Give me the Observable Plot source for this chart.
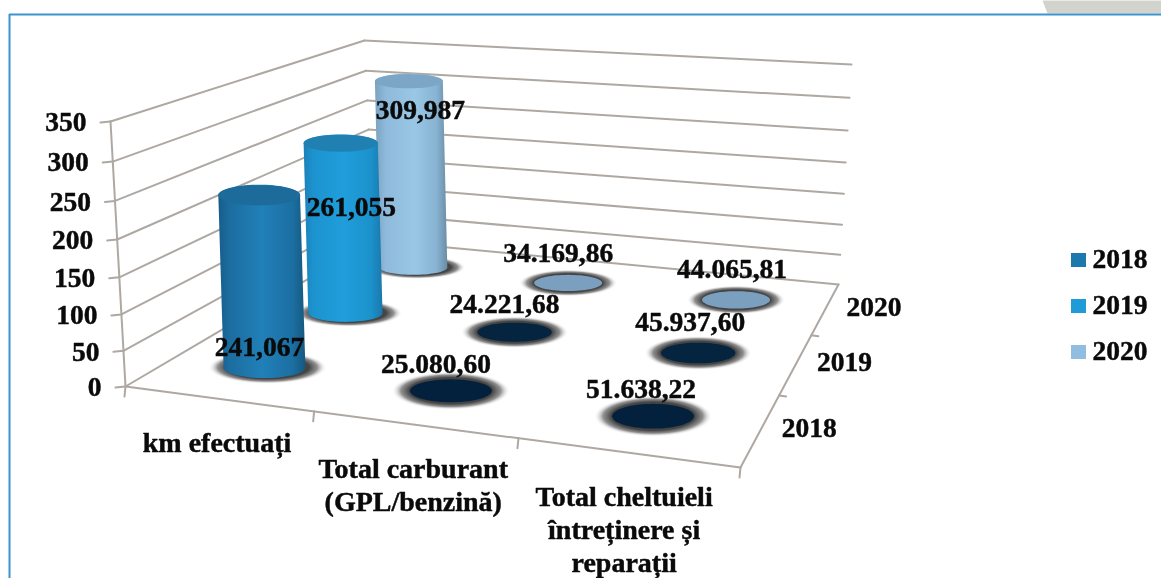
<!DOCTYPE html>
<html><head><meta charset="utf-8">
<script src="https://cdn.jsdelivr.net/npm/d3@7"></script>
<script src="https://cdn.jsdelivr.net/npm/@observablehq/plot@0.6"></script>
<style>
html,body{margin:0;padding:0;background:#fff}
#chart svg{display:block;filter:blur(0.6px)}
</style></head><body><div id="chart"></div>
<script>
// ---------- data ----------
const categories = ["km efectuați", "Total carburant\n(GPL/benzină)", "Total cheltuieli\nîntreținere și\nreparații"];
const years = ["2018", "2019", "2020"];
const kmHeights = [241.067, 261.055, 309.987];
const kmLabels = ["241,067", "261,055", "309,987"];
const carburantLabels = ["25.080,60", "24.221,68", "34.169,86"];
const cheltuieliLabels = ["51.638,22", "45.937,60", "44.065,81"];
const flatHeights = [0, 0, 0];
const valueTicks = [0, 50, 100, 150, 200, 250, 300, 350];

// ---------- projection of the 3D box: (category, year, value) -> picture ----------
const box = {
  fl0:[125,386], fr0:[740,467], bl0:[373,240], br0:[838,284],
  fl1:[110,121], fr1:[752,176], bl1:[364,40],  br1:[851,64]
};
const lerp = (a,b,t) => [a[0]+(b[0]-a[0])*t, a[1]+(b[1]-a[1])*t];
const warpU = t => t/(1.13-0.13*t);
const warpV = t => 1.3*t/(1+0.3*t);
const warpW = t => t/(1.07-0.07*t);
function raw(U,V,W){
  const f0 = lerp(box.fl0,box.fr0,U), b0 = lerp(box.bl0,box.br0,U);
  const f1 = lerp(box.fl1,box.fr1,U), b1 = lerp(box.bl1,box.br1,U);
  return lerp(lerp(f0,b0,V), lerp(f1,b1,V), W);
}
const project = (c,s,w) => raw(warpU(c/3), warpV(s/3), warpW(w/350));
const P = (c,s,w) => { const p = project(c,s,w); return {x:p[0], y:p[1]}; };

// ---------- derived shapes ----------
const R = 0.07;
const LEAN = 0.8; // cylinders lean a little less than the wall edges
function radii(c,s){
  const U = warpU(c/3), V = warpV(s/3);
  const rx = Math.abs(raw(U+R,V,0)[0]-raw(U-R,V,0)[0])/2;
  const ry = Math.abs(raw(U,warpV(s/3+R*0.85),0)[1]-raw(U,warpV(s/3-R*0.85),0)[1])/2;
  return {rx,ry};
}
function axisPoint(c,s,w){
  const base = P(c,s,0), top = P(c,s,w);
  return {x:base.x+(top.x-base.x)*LEAN, y:top.y};
}
const angles = n => d3.range(n).map(i => i/n*2*Math.PI);
function ellipse(c,s,w,kx=1,ky=1,sx=0){
  const o = axisPoint(c,s,w), {rx,ry} = radii(c,s);
  return angles(72).map(a => ({x:o.x+sx+kx*rx*Math.cos(a), y:o.y+ky*ry*Math.sin(a)}));
}
function body(c,s,w){
  const o0 = P(c,s,0), o1 = axisPoint(c,s,w), r = radii(c,s), pts = [];
  angles(72).slice(0,37).forEach(a => pts.push({x:o0.x+r.rx*Math.cos(a), y:o0.y+r.ry*Math.sin(a)}));
  angles(72).slice(36).concat([2*Math.PI]).forEach(a => pts.push({x:o1.x+r.rx*Math.cos(a), y:o1.y+r.ry*Math.sin(a)}));
  return pts;
}
const shape = (pts,fill) => Plot.line(pts,{x:"x",y:"y",fill,stroke:"none",curve:"linear-closed"});
const seg = (a,b,o={}) => Plot.line([a,b],{x:"x",y:"y",stroke:"#aea8a3",strokeWidth:2,...o});
const offs = (p,dx,dy) => ({x:p.x+dx,y:p.y+dy});

// ---------- gradients ----------
function linGrad(svg,id,stops){
  const g = svg.append("linearGradient").attr("id",id).attr("x1",0).attr("x2",1).attr("y1",0).attr("y2",0);
  stops.forEach(([o,c]) => g.append("stop").attr("offset",o).attr("stop-color",c));
}
const defs = () => {
  const d = d3.create("svg:defs");
  linGrad(d,"c2018",[[0,"#175c8a"],[.12,"#1c6c9f"],[.5,"#2080b8"],[.85,"#1c6fa3"],[1,"#155880"]]);
  linGrad(d,"c2019",[[0,"#1c80b8"],[.12,"#1c93cf"],[.5,"#1f9edb"],[.85,"#1c92cc"],[1,"#1a78ad"]]);
  linGrad(d,"c2020",[[0,"#7aa2c0"],[.15,"#8fbadb"],[.55,"#9ac7e6"],[.85,"#88b3d2"],[1,"#6a8ca6"]]);
  const h = d.append("radialGradient").attr("id","halo");
  [[0,"#3c3c3c",1],[.7,"#454545",1],[.84,"#7c7c7c",.85],[1,"#ffffff",0]].forEach(([o,c,a]) =>
    h.append("stop").attr("offset",o).attr("stop-color",c).attr("stop-opacity",a));
  return d.node();
};

// ---------- layout tables ----------
const capColor = {2018:"#1c6b9b", 2019:"#2080b2", 2020:"#7ca6c5"};
const legendColor = ["#1c78ad","#1f9bd7","#91bee0"];
const dotColor = ["#03203d","#04243f","#7b9fbf"];
const kmLabelOffset = [[-5,-20],[6,-106],[7,-157]];
const discLabelOffset = {
  1:[[-15,-27],[-10,-28],[-10,-30]],
  2:[[-12,-27],[-8,-31],[-4,-31]]
};
const categoryDx = [-1,-1,-3];

// ---------- marks ----------
const marks = [defs];

// background scrap and frame
marks.push(shape([{x:1042,y:0},{x:1161,y:0},{x:1161,y:13},{x:1047,y:13}],"#d3d3ce"));
marks.push(Plot.ruleY([14],{x1:9,x2:1161,stroke:"#3b94d0",strokeWidth:2}));
marks.push(Plot.ruleX([9],{y1:14,y2:578,stroke:"#3b94d0",strokeWidth:2}));

// walls
valueTicks.forEach(v => {
  marks.push(seg(P(0,0,v),P(0,3,v)));
  marks.push(seg(P(0,3,v),P(3,3,v)));
  marks.push(seg(offs(P(0,0,v),-10,1),P(0,0,v)));
});
marks.push(seg(P(0,0,0),P(0,0,350)));
// floor edges and ticks
marks.push(seg(P(0,0,0),P(3,0,0)));
marks.push(seg(P(3,0,0),P(3,3,0)));
[0,1,2,3].forEach(c => marks.push(seg(P(c,0,0),offs(P(c,0,0),-1,10))));
[1,2].forEach(s => marks.push(seg(P(3,s,0),offs(P(3,s,0),7,1))));

// flat discs (back to front)
[1,2].forEach(c => {
  [2,1,0].forEach(s => {
    marks.push(shape(ellipse(c+.5,s+.5,flatHeights[s],1.45,1.65),"url(#halo)"));
    marks.push(shape(ellipse(c+.5,s+.5,flatHeights[s]),dotColor[s]));
  });
});

// cylinders (back to front)
[2,1,0].forEach(s => {
  marks.push(shape(ellipse(.5,s+.5,0,1.45,1.55,3),"url(#halo)"));
  marks.push(shape(body(.5,s+.5,kmHeights[s]),`url(#c${years[s]})`));
  marks.push(shape(ellipse(.5,s+.5,kmHeights[s],1,0.95),capColor[years[s]]));
});

// text
const font = {fontFamily:"Liberation Serif",fontWeight:"bold",fill:"#0a0a0a",stroke:"#0a0a0a",strokeWidth:0.45};
marks.push(Plot.text(valueTicks,{
  x:v=>P(0,0,v).x-24, y:v=>P(0,0,v).y+1, text:d=>String(d), textAnchor:"end", fontSize:27.5, ...font}));
marks.push(Plot.text(categories,{
  x:(d,i)=>P(i+.5,0,0).x+categoryDx[i], y:(d,i)=>P(i+.5,0,0).y+30, text:d=>d, lineAnchor:"top", lineHeight:1.18, fontSize:28, ...font}));
marks.push(Plot.text(years,{
  x:(d,i)=>P(3,i+.5,0).x+21, y:(d,i)=>P(3,i+.5,0).y-2, text:d=>d, textAnchor:"start", fontSize:27.5, ...font}));
marks.push(Plot.text(kmLabels,{
  x:(d,i)=>P(.5,i+.5,0).x+kmLabelOffset[i][0], y:(d,i)=>P(.5,i+.5,0).y+kmLabelOffset[i][1], text:d=>d, fontSize:27.5, ...font}));
[[1,carburantLabels],[2,cheltuieliLabels]].forEach(([c,labels]) => {
  marks.push(Plot.text(labels,{
    x:(d,i)=>P(c+.5,i+.5,0).x+discLabelOffset[c][i][0], y:(d,i)=>P(c+.5,i+.5,0).y+discLabelOffset[c][i][1], text:d=>d, fontSize:27.5, ...font}));
});

// legend
marks.push(Plot.rect(years,{x1:()=>1071,x2:()=>1086,y1:(d,i)=>253+i*46,y2:(d,i)=>267+i*46,fill:(d,i)=>legendColor[i]}));
marks.push(Plot.text(years,{x:()=>1092,y:(d,i)=>259+i*46,text:d=>d,textAnchor:"start",fontSize:27.5,...font}));

const chart = Plot.plot({
  width:1161, height:578, margin:0,
  style:{background:"#fff"},
  x:{domain:[0,1161],range:[0,1161],axis:null},
  y:{domain:[0,578],range:[0,578],axis:null},
  color:{type:"identity"},
  marks
});
document.getElementById("chart").append(chart);
</script></body></html>
